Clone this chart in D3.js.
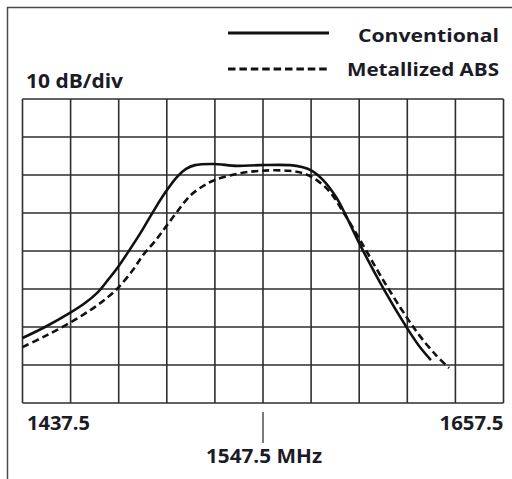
<!DOCTYPE html>
<html>
<head>
<meta charset="utf-8">
<script src="https://cdn.jsdelivr.net/npm/d3@7"></script>
<style>
  html, body { margin: 0; padding: 0; background: #ffffff; }
  svg { display: block; }
  text { font-family: "Open Sans", "DejaVu Sans", sans-serif; font-weight: 700; fill: #1b1b28; }
</style>
</head>
<body>
<svg id="chart" width="512" height="479"></svg>
<script>
// ---- data (frequency in MHz, level in dB relative to top of grid) ----
const seriesNames = ["Conventional", "Metallized ABS"];

const conventionalFreq = [1437.5, 1447.8, 1459.2, 1466.1, 1472.0, 1476.6, 1481.2, 1485.8, 1491.2, 1497.2, 1502.7, 1508.2, 1512.3, 1516.4, 1524.6, 1535.6, 1546.1, 1559.9, 1565.3, 1569.9, 1574.9, 1580.9, 1584.6, 1591.9, 1602.4, 1613.4, 1618.9, 1624.3];
const conventionalLevel = [-62.9, -60.0, -56.3, -53.7, -50.8, -47.6, -44.2, -40.3, -35.5, -29.7, -24.7, -20.5, -18.4, -17.4, -17.1, -17.6, -17.4, -17.4, -17.9, -18.9, -21.3, -25.8, -29.7, -38.4, -49.7, -60.3, -65.0, -68.7];

const metallizedFreq = [1437.5, 1447.8, 1459.2, 1470.7, 1476.6, 1481.2, 1488.0, 1492.6, 1498.1, 1502.7, 1508.2, 1514.1, 1520.1, 1525.5, 1535.6, 1546.1, 1559.4, 1566.7, 1572.7, 1578.2, 1583.6, 1591.9, 1602.4, 1613.4, 1619.3, 1626.6, 1632.6];
const metallizedLevel = [-65.3, -62.4, -58.9, -54.7, -52.1, -49.7, -45.0, -41.1, -37.4, -33.9, -29.7, -25.5, -22.9, -21.3, -19.7, -18.9, -18.9, -19.7, -21.6, -24.5, -29.2, -37.1, -47.6, -57.6, -62.4, -67.4, -70.8];

const freqMin = 1437.5, freqMax = 1657.5, freqStep = 22;
const levelMin = -80, levelMax = 0, levelStep = 10;
const tickValues = [1437.5, 1547.5, 1657.5];
const tickLabels = ["1437.5", "1547.5 MHz", "1657.5"];
const scaleLabel = "10 dB/div";

// ---- layout ----
const svg = d3.select("#chart");
const x = d3.scaleLinear().domain([freqMin, freqMax]).range([22.5, 503.5]);
const y = d3.scaleLinear().domain([levelMin, levelMax]).range([403, 99]);

// outer frame (left + top edges visible)
svg.append("path")
  .attr("d", "M7.5,479 L7.5,7.5 L512,7.5")
  .attr("fill", "none").attr("stroke", "#4a4a4a").attr("stroke-width", 1.5);

// grid
const gridF = d3.range(freqMin, freqMax + 0.001, freqStep);
const gridL = d3.range(levelMin, levelMax + 0.001, levelStep);
const g = svg.append("g");
g.selectAll("line.v").data(gridF).join("line")
  .attr("x1", d => x(d)).attr("x2", d => x(d))
  .attr("y1", y(levelMax)).attr("y2", y(levelMin))
  .attr("stroke", "#2e2e2e").attr("stroke-width", 1.6);
g.selectAll("line.h").data(gridL).join("line")
  .attr("y1", d => y(d)).attr("y2", d => y(d))
  .attr("x1", x(freqMin)).attr("x2", x(freqMax))
  .attr("stroke", "#2e2e2e").attr("stroke-width", 1.6);

// curves
const line = d3.line().curve(d3.curveCatmullRom.alpha(0.5)).x(d => x(d[0])).y(d => y(d[1]));
const conv = conventionalFreq.map((f, i) => [f, conventionalLevel[i]]);
const met = metallizedFreq.map((f, i) => [f, metallizedLevel[i]]);

svg.append("path").datum(met).attr("d", line)
  .attr("fill", "none").attr("stroke", "#111").attr("stroke-width", 2.6)
  .attr("stroke-dasharray", "7,4");
svg.append("path").datum(conv).attr("d", line)
  .attr("fill", "none").attr("stroke", "#111").attr("stroke-width", 2.6);

// legend
svg.append("line").attr("x1", 228).attr("x2", 329).attr("y1", 33).attr("y2", 33)
  .attr("stroke", "#111").attr("stroke-width", 3);
svg.append("line").attr("x1", 228).attr("x2", 329).attr("y1", 69).attr("y2", 69)
  .attr("stroke", "#111").attr("stroke-width", 3).attr("stroke-dasharray", "7.5,3.9");
svg.append("text").attr("x", 499).attr("y", 42).attr("text-anchor", "end")
  .attr("font-size", 18)
  .attr("textLength", 141).attr("lengthAdjust", "spacingAndGlyphs").text(seriesNames[0]);
svg.append("text").attr("x", 499).attr("y", 76).attr("text-anchor", "end")
  .attr("font-size", 18)
  .attr("textLength", 152).attr("lengthAdjust", "spacingAndGlyphs").text(seriesNames[1]);

// scale label
svg.append("text").attr("x", 26).attr("y", 88)
  .attr("font-size", 19)
  .attr("textLength", 97).attr("lengthAdjust", "spacingAndGlyphs").text(scaleLabel);

// x labels
const lblW = [63, 116, 64];
svg.append("text").attr("x", 27).attr("y", 430)
  .attr("font-size", 19)
  .attr("textLength", lblW[0]).attr("lengthAdjust", "spacingAndGlyphs").text(tickLabels[0]);
svg.append("text").attr("x", x(tickValues[2])).attr("y", 430).attr("text-anchor", "end")
  .attr("font-size", 19)
  .attr("textLength", lblW[2]).attr("lengthAdjust", "spacingAndGlyphs").text(tickLabels[2]);
svg.append("line").attr("x1", x(tickValues[1])).attr("x2", x(tickValues[1]))
  .attr("y1", 412).attr("y2", 443).attr("stroke", "#333").attr("stroke-width", 1.3);
svg.append("text").attr("x", x(tickValues[1]) + 1).attr("y", 463).attr("text-anchor", "middle")
  .attr("font-size", 19)
  .attr("textLength", lblW[1]).attr("lengthAdjust", "spacingAndGlyphs").text(tickLabels[1]);
</script>
</body>
</html>
